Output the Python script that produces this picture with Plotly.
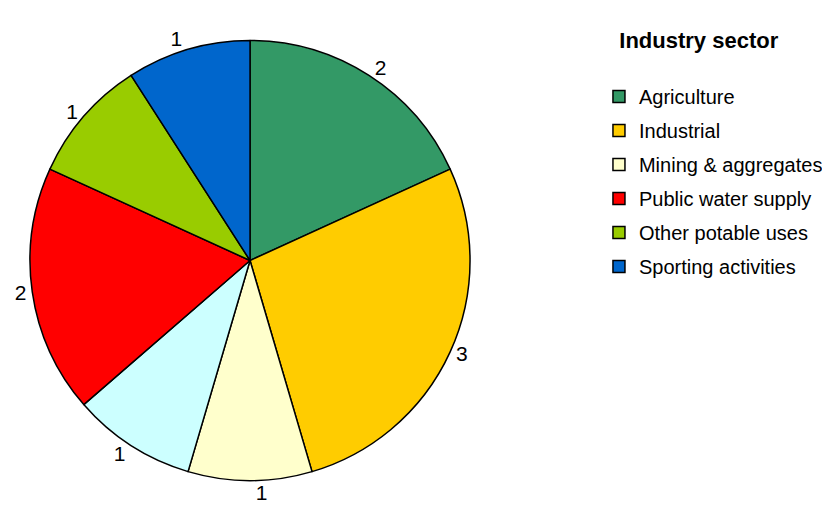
import plotly.graph_objects as go

labels = ["Agriculture", "Industrial", "Mining & aggregates", "Unspecified",
          "Public water supply", "Other potable uses", "Sporting activities"]
values = [2, 3, 1, 1, 2, 1, 1]
colors = ["#339966", "#FFCC00", "#FFFFCC", "#CCFFFF", "#FF0000", "#99CC00", "#0066CC"]
legend_labels = ["Agriculture", "Industrial", "Mining & aggregates",
                 "Public water supply", "Other potable uses", "Sporting activities"]
legend_colors = ["#339966", "#FFCC00", "#FFFFCC", "#FF0000", "#99CC00", "#0066CC"]

fig = go.Figure()
fig.add_trace(go.Pie(
    labels=labels, values=values, sort=False, direction="clockwise", rotation=0,
    marker=dict(colors=colors, line=dict(color="black", width=1.5)),
    textinfo="value", textposition="outside",
    outsidetextfont=dict(size=21, color="black", family="Liberation Sans, Arial"),
    showlegend=False, hoverinfo="label+value",
    domain=dict(x=[0.0265, 0.5567], y=[0.0735, 0.9363]),
))
for i, (lab, col) in enumerate(zip(legend_labels, legend_colors)):
    fig.add_trace(go.Scatter(
        x=[None], y=[None], mode="markers", name=lab, legendgroup=f"g{i}",
        marker=dict(symbol="square", size=12, color=col, line=dict(color="black", width=1.5)),
    ))

fig.update_layout(
    width=830, height=510,
    margin=dict(l=0, r=0, t=0, b=0, autoexpand=False),
    paper_bgcolor="white", plot_bgcolor="white",
    font=dict(family="Liberation Sans, Arial", size=20, color="black"),
    xaxis=dict(visible=False), yaxis=dict(visible=False),
    legend=dict(
        x=0.712, y=0.977, xanchor="left", yanchor="top",
        title=dict(text="&nbsp;&nbsp;&nbsp;<b>Industry sector</b><br> ", font=dict(size=22)),
        tracegroupgap=5, itemwidth=30,
        font=dict(size=20),
    ),
)
fig.write_html("out.html")
